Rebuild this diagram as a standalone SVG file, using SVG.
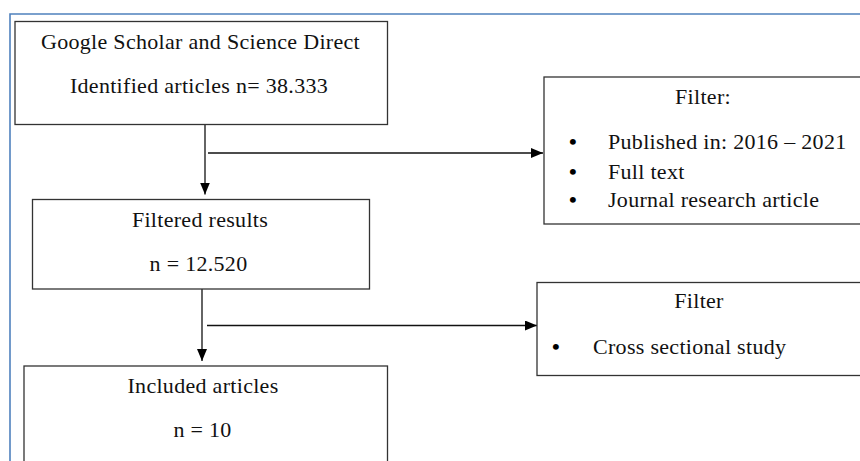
<svg xmlns="http://www.w3.org/2000/svg" width="860" height="461" viewBox="0 0 860 461">
<defs>
<style>
.box{fill:#fff;stroke:#333;stroke-width:1.3}
.t{font-family:"Liberation Serif","Times New Roman",serif;font-size:22px;letter-spacing:0.3px;fill:#111}
.b{font-family:"Liberation Serif","Times New Roman",serif;font-size:22px;font-weight:bold;fill:#000}
.c{text-anchor:middle}
.ln{stroke:#111;stroke-width:1.3;fill:none}
.frame{stroke:#4f81bd;stroke-width:1.6;fill:none}
</style>
<marker id="ah" viewBox="0 0 12 10" refX="12" refY="5" markerWidth="12" markerHeight="10" markerUnits="userSpaceOnUse" orient="auto">
<path d="M0,0 L12,5 L0,10 Z" fill="#000"/>
</marker>
</defs>
<rect width="860" height="461" fill="#fff"/>
<path class="frame" d="M10,463 V14 H862"/>
<g id="connectors">
<line class="ln" x1="205" y1="124.5" x2="205" y2="194.5" marker-end="url(#ah)"/>
<line class="ln" x1="208" y1="153" x2="543" y2="153" marker-end="url(#ah)"/>
<line class="ln" x1="202" y1="289" x2="202" y2="361" marker-end="url(#ah)"/>
<line class="ln" x1="207" y1="325.5" x2="537" y2="325.5" marker-end="url(#ah)"/>
</g>
<g id="node-identified">
<rect class="box" x="15" y="21.5" width="372.5" height="103"/>
<text class="t c" x="200.5" y="49">Google Scholar and Science Direct</text>
<text class="t c" x="199" y="92.5">Identified articles n= 38.333</text>
</g>
<g id="node-filter1">
<rect class="box" x="544" y="77" width="330" height="147"/>
<text class="t c" x="703" y="104">Filter:</text>
<text class="b" x="569" y="149">•</text>
<text class="t" x="608" y="149">Published in: 2016 – 2021</text>
<text class="b" x="569" y="178.5">•</text>
<text class="t" x="608" y="178.5">Full text</text>
<text class="b" x="569" y="206.5">•</text>
<text class="t" x="608" y="206.5">Journal research article</text>
</g>
<g id="node-filtered">
<rect class="box" x="32.5" y="199.5" width="337" height="89.5"/>
<text class="t c" x="200" y="226.5">Filtered results</text>
<text class="t c" x="198.5" y="270.5">n = 12.520</text>
</g>
<g id="node-filter2">
<rect class="box" x="537" y="282.5" width="337" height="93"/>
<text class="t c" x="699" y="308">Filter</text>
<text class="b" x="552" y="354">•</text>
<text class="t" x="593" y="354">Cross sectional study</text>
</g>
<g id="node-included">
<rect class="box" x="24" y="366" width="363.5" height="110"/>
<text class="t c" x="203" y="393">Included articles</text>
<text class="t c" x="202.5" y="437">n = 10</text>
</g>
</svg>
